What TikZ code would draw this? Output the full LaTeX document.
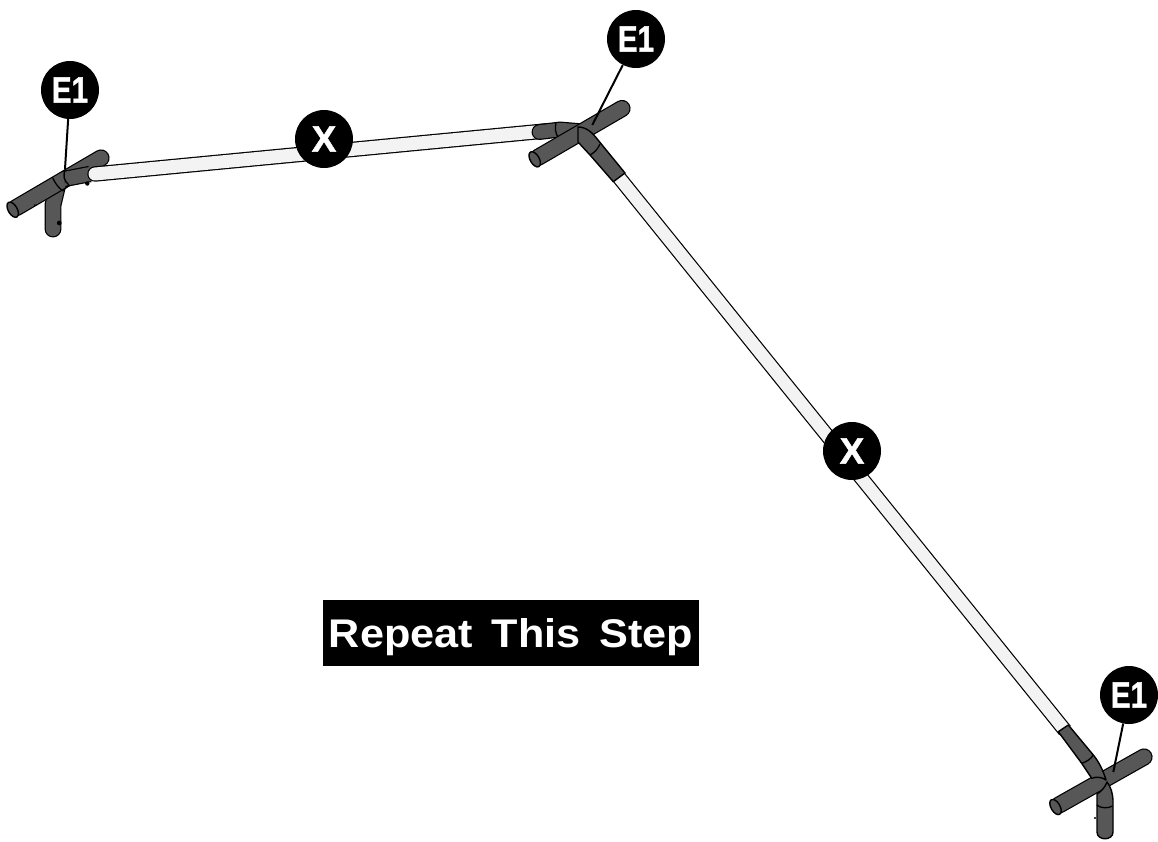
\documentclass[tikz,border=0pt]{standalone}
\usepackage{fontspec}
\setmainfont{Liberation Sans}
\newfontfamily\badgefont[UprightFont=* Bold,FakeBold=1.3]{Liberation Sans}
\definecolor{tubedark}{HTML}{575757}
\definecolor{tubelight}{HTML}{F3F3F3}
\newcommand{\tube}[3]{%
  \draw[black,line width=#1pt+2.4pt,#2] #3;
  \draw[tubedark,line width=#1pt,#2] #3;}
\newcommand{\pipe}[3]{%
  \draw[black,line width=#1pt+2.4pt,#2] #3;
  \draw[tubelight,line width=#1pt,#2] #3;}
\newcommand{\narrowtext}[1]{\scalebox{0.8}[1]{#1}}
\tikzset{
  badge/.style={circle,fill=black,text=white,inner sep=0pt,minimum size=58pt,font=\fontsize{37}{37}\badgefont},
  leader/.style={draw=black,line width=2pt},
  seam/.style={draw=black,line width=1.3pt},
  capend/.style={draw=black,line width=1.4pt,fill=tubedark},
  shell/.style={draw=black,line width=1.4pt,fill=tubedark,line join=round},
  banner/.style={fill=black,inner sep=0pt,minimum width=376pt,minimum height=66pt},
  bannertext/.style={text=white,inner sep=0pt,font=\fontsize{40}{40}\selectfont\bfseries},
  speck/.style={fill=black}
}
\begin{document}
\begin{tikzpicture}[x=1pt,y=-1pt]
\useasboundingbox (0,0) rectangle (1158,841);
% ---- left tee
\tube{14.5}{line cap=round}{(53,229) -- (53,205) -- (57,188)}
\tube{14.8}{line cap=round}{(16,207.8) -- (101,158)}
\draw[capend] (12.7,209.7) ellipse [x radius=4.5,y radius=8.4,rotate=30];
\tube{14}{line cap=butt}{(64,179) -- (90,174)}
\draw[seam] (52.5,177.5) .. controls (55,183) and (58,187) .. (62.5,191);
\draw[seam] (65,169.5) .. controls (63,176) and (64,181) .. (69,185);
\draw[seam] (62.5,191) -- (69,185);
\fill[speck] (59.3,223) circle (2.4);
\fill[speck] (87.3,183.5) circle (2.2);
\fill[speck] (35,205) circle (1);
% ---- upper pipe
\pipe{13}{line cap=round}{(95,174) -- (545,131)}
% ---- middle tee
\tube{13.5}{line cap=round}{(539.5,132) -- (560,129.5) -- (578,131)}
\draw[seam] (556,123) .. controls (555,127) and (555,133) .. (558,137);
\tube{14.8}{line cap=round}{(538,157.4) -- (622,108.5)}
\draw[capend] (534.7,159.3) ellipse [x radius=4.5,y radius=8.4,rotate=30];
\pipe{12.4}{line cap=butt}{(617,175) -- (1065,730.5)}
\draw[shell] (578,127) .. controls (586,127) and (592,132) .. (598,140) -- (625,173) -- (613.3,181.7) -- (590,155) -- (578,142) -- cycle;
\draw[seam] (590,155) .. controls (594,153) and (598,149) .. (600,144);
% ---- right tee
\tube{14.8}{line cap=round}{(1058.8,805.1) -- (1144,757)}
\draw[capend] (1055.5,807) ellipse [x radius=4.5,y radius=8.4,rotate=30];
\draw[shell] (1097,794) .. controls (1102,791) and (1105,787) .. (1107,782) .. controls (1111,787) and (1113,794) .. (1113,802) -- (1113,832) .. controls (1113,841) and (1097,841) .. (1097,832) -- cycle;
\draw[seam] (1096.7,805) .. controls (1101,808.5) and (1108,808.5) .. (1112.5,806);
\draw[shell] (1068.3,725) -- (1093.3,755) .. controls (1099,762) and (1103,770) .. (1106,780) .. controls (1102,777) and (1096,776.5) .. (1091.7,778.3) -- (1081.7,763.3) -- (1058.3,731.7) -- cycle;
\draw[seam] (1081.7,763.3) .. controls (1086,762) and (1091,759) .. (1093.3,755);
\fill[speck] (1095,818) circle (1.2);
% ---- leaders and badges
\node[badge] (e1a) at (70,90) {\narrowtext{E1}};
\coordinate (e1aend) at (65,169);
\draw[leader] (e1a) -- (e1aend);
\node[badge] (e1b) at (636,39) {\narrowtext{E1}};
\coordinate (e1bend) at (592.3,125);
\draw[leader] (e1b) -- (e1bend);
\node[badge] (e1c) at (1129,695) {\narrowtext{E1}};
\coordinate (e1cend) at (1113.3,772);
\draw[leader] (e1c) -- (e1cend);
\node[badge] (xa) at (324,139) {X};
\node[badge] (xb) at (852,451) {X};
\node[banner] (note) at (511,633) {};
\node[bannertext,anchor=base] (notetext) at (511,647) {\scalebox{1.08}[1]{Repeat\hspace{0.16em} This\hspace{0.16em} Step}};
\end{tikzpicture}
\end{document}
